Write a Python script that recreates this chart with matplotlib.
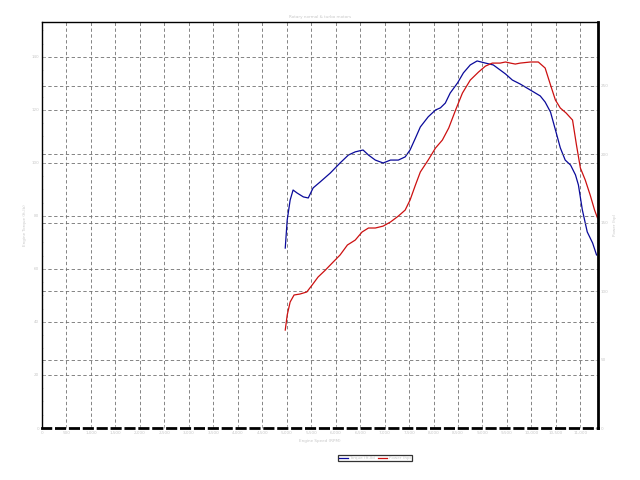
#!/usr/bin/env python

""" Dyno chart: torque and power against engine speed """

import numpy as np
import matplotlib.pyplot as plt
from matplotlib.ticker import MultipleLocator, FuncFormatter

# ----- data ----------------------------------------------------
torque_rpm = [4970, 5010, 5070, 5130, 5210, 5340, 5440, 5540, 5680, 5890,
              6090, 6260, 6400, 6560, 6670, 6810, 6970, 7120, 7280, 7420,
              7520, 7630, 7730, 7890, 8040, 8140, 8240, 8340, 8490, 8610,
              8750, 8890, 9060, 9220, 9360, 9470, 9610, 9770, 9980, 10180,
              10280, 10390, 10490, 10590, 10690, 10800, 10900, 10960, 11040,
              11140, 11250, 11330]
torque = [67.9, 78.5, 86.0, 89.8, 88.7, 87.2, 86.8, 90.6, 92.8, 96.2,
          100.0, 103.0, 104.2, 104.9, 103.0, 101.1, 100.0, 101.1, 101.1, 102.3,
          104.9, 109.4, 113.6, 117.4, 120.0, 120.8, 122.6, 126.4, 130.2, 134.0,
          137.0, 138.5, 137.7, 137.0, 135.1, 133.6, 131.3, 129.8, 127.5, 125.3,
          123.0, 119.2, 112.5, 105.7, 101.1, 99.2, 95.5, 91.7, 82.3,
          74.0, 69.8, 65.3]

power_rpm = [4970, 5010, 5070, 5150, 5270, 5410, 5520, 5640, 5790, 5950,
             6090, 6240, 6400, 6540, 6670, 6810, 6970, 7120, 7280, 7420,
             7520, 7630, 7730, 7890, 8040, 8180, 8310, 8450, 8590, 8750,
             8920, 9060, 9200, 9360, 9470, 9570, 9670, 9770, 9980, 10140,
             10280, 10390, 10490, 10590, 10710, 10840, 10920, 11000, 11100,
             11200, 11290, 11350]
power = [71.5, 82.5, 92.0, 97.1, 97.8, 99.3, 104.4, 110.2, 115.3, 121.2,
         126.3, 133.6, 137.2, 143.1, 146.0, 146.0, 147.4, 150.4, 154.7, 159.1,
         166.4, 177.4, 186.9, 195.6, 204.4, 210.2, 219.0, 232.1, 244.5, 254.0,
         259.9, 264.2, 266.4, 266.4, 267.2, 266.4, 265.7, 266.4, 267.2, 267.2,
         262.8, 250.4, 239.4, 233.6, 229.9, 224.8, 206.6, 189.8, 181.0,
         170.1, 159.1, 153.3]

title = "Rotary normal & turbo motors"
xlabel = "Engine Speed (RPM)"
ylabel_left = "Engine Torque (ft-lb)"
ylabel_right = "Power (hp)"
labels = ["Torque (ft-lb)", "Power (hp)"]

txt = "#c8c8c8"
fs = 3

# ----- plot -----------------------------------------------------
fig = plt.figure(figsize=(6.4, 4.8), dpi=100)
ax = fig.add_axes([42 / 640, 52 / 480, 556 / 640, 406 / 480])
ax2 = ax.twinx()

l1, = ax.plot(torque_rpm, torque, color="#0a0a9a", lw=0.9)
l2, = ax2.plot(power_rpm, power, color="#cc1010", lw=0.9)

ax.set_xlim(0, 11360)
ax.set_ylim(0, 153.2)
ax2.set_ylim(0, 296.4)

ax.xaxis.set_major_locator(MultipleLocator(500))
ax.yaxis.set_major_locator(MultipleLocator(20))
ax.yaxis.set_minor_locator(MultipleLocator(5))
ax2.yaxis.set_major_locator(MultipleLocator(50))
ax2.yaxis.set_minor_locator(MultipleLocator(10))
ax.xaxis.set_major_formatter(FuncFormatter(lambda v, p: "{:,.0f}".format(v)))

grid_kw = dict(color="#707070", linestyle=(0, (4, 3)), linewidth=0.6)
ax.grid(True, axis="both", **grid_kw)
ax2.grid(True, axis="y", **grid_kw)

for a in (ax, ax2):
    a.tick_params(which="both", direction="in", labelsize=fs, labelcolor=txt,
                  color="#bbbbbb", length=2, width=0.5, pad=2)
    a.tick_params(which="minor", length=1)

for s in ("left", "top"):
    ax2.spines[s].set_linewidth(1.0)
ax2.spines["right"].set_linewidth(2.0)
ax2.spines["bottom"].set_linewidth(2.0)
ax2.spines["bottom"].set_linestyle((0, (3, 2)))
for s in ax.spines.values():
    s.set_visible(False)

ax.set_title(title, fontsize=fs, color=txt, pad=3)
ax.set_xlabel(xlabel, fontsize=fs, color=txt, labelpad=3)
ax.set_ylabel(ylabel_left, fontsize=fs, color=txt, labelpad=3)
ax2.set_ylabel(ylabel_right, fontsize=fs, color=txt, labelpad=3)

leg = fig.legend([l1, l2], labels, loc="center", ncol=2,
                 bbox_to_anchor=(375 / 640, 1 - 458 / 480), fontsize=fs,
                 frameon=True, fancybox=False, handlelength=2.2,
                 borderpad=0.2, columnspacing=0.6, handletextpad=0.4)
leg.get_frame().set_edgecolor("black")
leg.get_frame().set_linewidth(0.9)
for t in leg.get_texts():
    t.set_color(txt)

plt.savefig("out.png", dpi=100)
